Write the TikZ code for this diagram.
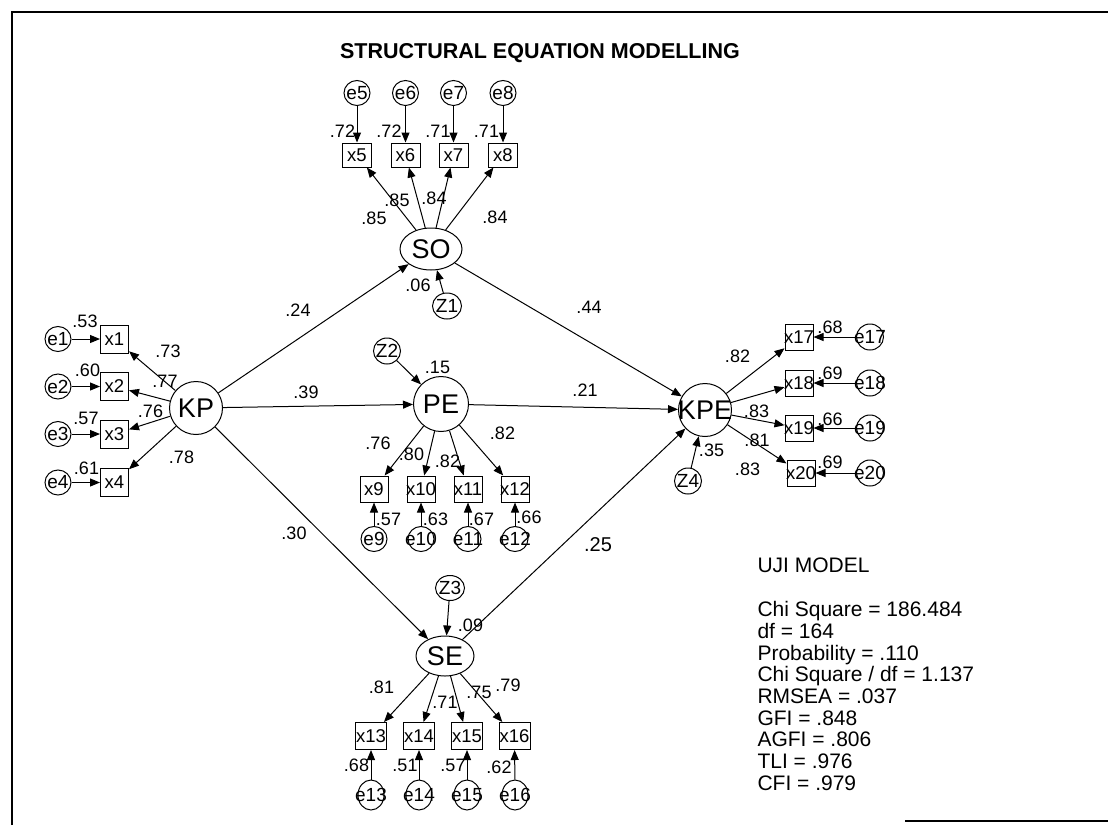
\documentclass[tikz,border=0pt]{standalone}
\usepackage{fontspec}
\setmainfont{Liberation Sans}
\usetikzlibrary{arrows.meta,shapes.geometric,positioning}
\newcommand{\zw}[1]{\makebox[0pt]{#1}}

\begin{document}
\begin{tikzpicture}[x=1pt,y=-1pt,line width=1pt,
  >={Triangle[length=10pt,width=8pt]},
  lat/.style={draw,ellipse,inner sep=0pt,font=\fontsize{27}{27}\selectfont},
  dist/.style={draw,ellipse,inner sep=0pt,minimum width=29pt,minimum height=26pt,font=\fontsize{19}{19}\selectfont},
  obs/.style={draw,rectangle,inner sep=0pt,minimum width=29pt,minimum height=26pt,font=\fontsize{18.5}{18.5}\selectfont},
  err/.style={draw,ellipse,inner sep=0pt,minimum width=26pt,minimum height=25pt,font=\fontsize{19}{19}\selectfont},
  lbl/.style={inner sep=0pt,font=\fontsize{18}{18}\selectfont},
  stat/.style={inner sep=0pt,align=left,font=\fontsize{21}{21.7}\selectfont}]
  \useasboundingbox (0,0) rectangle (1108,825);
  % frame
  \draw[line width=1.6pt] (12,825) -- (12,12) -- (1108,12);
  \draw[line width=1.6pt] (905,821) -- (1108,821);
  \node[inner sep=0pt,font=\fontsize{21.5}{21.5}\selectfont\bfseries] (title) at (540,53) {STRUCTURAL EQUATION MODELLING};

  % latent variables
  \node[lat,minimum width=62pt,minimum height=42pt] (SO) at (431,249) {\zw{SO}};
  \node[lat,minimum width=53pt,minimum height=53pt] (KP) at (196,408) {\zw{KP}};
  \node[lat,minimum width=55pt,minimum height=55pt] (PE) at (441,404) {\zw{PE}};
  \node[lat,minimum width=53pt,minimum height=53pt] (KPE) at (705,410) {\zw{KPE}};
  \node[lat,minimum width=58pt,minimum height=40pt] (SE) at (445,656) {\zw{SE}};

  \node[dist] (Z1) at (447,306) {\zw{Z1}};
  \node[dist,minimum width=27pt] (Z2) at (387,351) {\zw{Z2}};
  \node[dist,minimum height=25pt] (Z3) at (450,588) {\zw{Z3}};
  \node[dist,minimum width=27pt] (Z4) at (688,481) {\zw{Z4}};

  % SO indicators
  \node[obs,minimum height=24pt] (x5) at (357,155) {\zw{x5}};
  \node[obs,minimum height=24pt] (x6) at (405.5,155) {\zw{x6}};
  \node[obs,minimum height=24pt] (x7) at (453.5,155) {\zw{x7}};
  \node[obs,minimum height=24pt] (x8) at (503,155) {\zw{x8}};
  \node[err] (e5) at (357,93) {\zw{e5}};
  \node[err] (e6) at (405.5,93) {\zw{e6}};
  \node[err] (e7) at (453.5,93) {\zw{e7}};
  \node[err] (e8) at (503,93) {\zw{e8}};

  % KP indicators
  \node[obs,minimum width=28pt,minimum height=28pt] (x1) at (114.5,339) {\zw{x1}};
  \node[obs,minimum width=28pt,minimum height=28pt] (x2) at (114.5,386.5) {\zw{x2}};
  \node[obs,minimum width=28pt,minimum height=28pt] (x3) at (114.5,434) {\zw{x3}};
  \node[obs,minimum width=28pt,minimum height=28pt] (x4) at (114.5,482.5) {\zw{x4}};
  \node[err] (e1) at (58,339) {\zw{e1}};
  \node[err] (e2) at (58,386.5) {\zw{e2}};
  \node[err] (e3) at (58,434) {\zw{e3}};
  \node[err] (e4) at (58,482.5) {\zw{e4}};

  % PE indicators
  \node[obs,minimum width=28pt] (x9) at (374,489) {\zw{x9}};
  \node[obs,minimum width=28pt] (x10) at (421,489) {\zw{x10}};
  \node[obs,minimum width=28pt] (x11) at (468,489) {\zw{x11}};
  \node[obs,minimum width=28pt] (x12) at (515,489) {\zw{x12}};
  \node[err] (e9) at (374,539) {\zw{e9}};
  \node[err] (e10) at (421,539) {\zw{e10}};
  \node[err] (e11) at (468,539) {\zw{e11}};
  \node[err] (e12) at (515,539) {\zw{e12}};

  % KPE indicators
  \node[obs,minimum width=28pt] (x17) at (799,337) {\zw{x17}};
  \node[obs,minimum width=28pt] (x18) at (799,383) {\zw{x18}};
  \node[obs,minimum width=28pt] (x19) at (799,428) {\zw{x19}};
  \node[obs,minimum width=28pt] (x20) at (801,473) {\zw{x20}};
  \node[err,minimum width=27pt,minimum height=26pt] (e17) at (870,337) {\zw{e17}};
  \node[err,minimum width=27pt,minimum height=26pt] (e18) at (870,383) {\zw{e18}};
  \node[err,minimum width=27pt,minimum height=26pt] (e19) at (870,428) {\zw{e19}};
  \node[err,minimum width=27pt,minimum height=26pt] (e20) at (870,473) {\zw{e20}};

  % SE indicators
  \node[obs,minimum width=31pt,minimum height=27pt] (x13) at (371,736) {\zw{x13}};
  \node[obs,minimum width=31pt,minimum height=27pt] (x14) at (419,736) {\zw{x14}};
  \node[obs,minimum width=31pt,minimum height=27pt] (x15) at (467,736) {\zw{x15}};
  \node[obs,minimum width=31pt,minimum height=27pt] (x16) at (514.5,736) {\zw{x16}};
  \node[err,minimum height=30pt] (e13) at (371,795) {\zw{e13}};
  \node[err,minimum height=30pt] (e14) at (419,795) {\zw{e14}};
  \node[err,minimum height=30pt] (e15) at (467,795) {\zw{e15}};
  \node[err,minimum height=30pt] (e16) at (515,795) {\zw{e16}};

  % structural paths
  \draw[->] (KP) -- (SO);
  \draw[->] (KP) -- (PE);
  \draw[->] (KP) -- (SE);
  \draw[->] (SO) -- (KPE);
  \draw[->] (PE) -- (KPE);
  \draw[->] (SE) -- (KPE);
  \draw[->] (Z1) -- (SO);
  \draw[->] (Z2) -- (PE);
  \draw[->] (Z3) -- (SE);
  \draw[->] (Z4) -- (KPE);

  % measurement paths
  \draw[->] (SO) -- (x5);
  \draw[->] (SO) -- (x6);
  \draw[->] (SO) -- (x7);
  \draw[->] (SO) -- (x8);
  \draw[->] (e5) -- (x5);
  \draw[->] (e6) -- (x6);
  \draw[->] (e7) -- (x7);
  \draw[->] (e8) -- (x8);
  \draw[->] (KP) -- (x1);
  \draw[->] (KP) -- (x2);
  \draw[->] (KP) -- (x3);
  \draw[->] (KP) -- (x4);
  \draw[->] (e1) -- (x1);
  \draw[->] (e2) -- (x2);
  \draw[->] (e3) -- (x3);
  \draw[->] (e4) -- (x4);
  \draw[->] (PE) -- (x9);
  \draw[->] (PE) -- (x10);
  \draw[->] (PE) -- (x11);
  \draw[->] (PE) -- (x12);
  \draw[->] (e9) -- (x9);
  \draw[->] (e10) -- (x10);
  \draw[->] (e11) -- (x11);
  \draw[->] (e12) -- (x12);
  \draw[->] (KPE) -- (x17);
  \draw[->] (KPE) -- (x18);
  \draw[->] (KPE) -- (x19);
  \draw[->] (KPE) -- (x20);
  \draw[->] (e17) -- (x17);
  \draw[->] (e18) -- (x18);
  \draw[->] (e19) -- (x19);
  \draw[->] (e20) -- (x20);
  \draw[->] (SE) -- (x13);
  \draw[->] (SE) -- (x14);
  \draw[->] (SE) -- (x15);
  \draw[->] (SE) -- (x16);
  \draw[->] (e13) -- (x13);
  \draw[->] (e14) -- (x14);
  \draw[->] (e15) -- (x15);
  \draw[->] (e16) -- (x16);

  % estimates
  \node[lbl] (b1) at (298,310) {.24};
  \node[lbl] (b2) at (589,307) {.44};
  \node[lbl] (b3) at (306,392) {.39};
  \node[lbl] (b4) at (585,390) {.21};
  \node[lbl] (b5) at (294,533) {.30};
  \node[lbl,font=\fontsize{20}{20}\selectfont] (b6) at (598,545) {.25};
  \node[lbl] (r1) at (418,285) {.06};
  \node[lbl] (r2) at (437.5,367) {.15};
  \node[lbl] (r3) at (470.5,625) {.09};
  \node[lbl] (r4) at (711.5,450) {.35};

  \node[lbl] (l5) at (374,218) {.85};
  \node[lbl] (l6) at (397,200) {.85};
  \node[lbl] (l7) at (434,198) {.84};
  \node[lbl] (l8) at (495,217) {.84};
  \node[lbl] (s5) at (342.5,131) {.72};
  \node[lbl] (s6) at (389,131) {.72};
  \node[lbl] (s7) at (438,131) {.71};
  \node[lbl] (s8) at (486.5,131) {.71};

  \node[lbl] (l1) at (168,351) {.73};
  \node[lbl] (l2) at (165,381) {.77};
  \node[lbl] (l3) at (150.5,411.5) {.76};
  \node[lbl] (l4) at (181.5,457.5) {.78};
  \node[lbl] (s1) at (85,321.5) {.53};
  \node[lbl] (s2) at (87.5,370) {.60};
  \node[lbl] (s3) at (86,418) {.57};
  \node[lbl] (s4) at (86.5,468) {.61};

  \node[lbl] (l9) at (378,443) {.76};
  \node[lbl] (l10) at (411.5,454) {.80};
  \node[lbl] (l11) at (447.5,461.5) {.82};
  \node[lbl] (l12) at (502.5,433) {.82};
  \node[lbl] (s9) at (388.5,519) {.57};
  \node[lbl] (s10) at (435.5,519) {.63};
  \node[lbl] (s11) at (481.5,519) {.67};
  \node[lbl] (s12) at (529,517) {.66};

  \node[lbl] (l17) at (737.5,356) {.82};
  \node[lbl] (l18) at (756.5,411) {.83};
  \node[lbl] (l19) at (757,440) {.81};
  \node[lbl] (l20) at (747.5,469) {.83};
  \node[lbl] (s17) at (830,327) {.68};
  \node[lbl] (s18) at (830,373) {.69};
  \node[lbl] (s19) at (830,419) {.66};
  \node[lbl] (s20) at (830,462.5) {.69};

  \node[lbl] (l13) at (381.5,687) {.81};
  \node[lbl] (l14) at (445,702) {.71};
  \node[lbl] (l15) at (479,692) {.75};
  \node[lbl] (l16) at (508,685) {.79};
  \node[lbl] (s13) at (356.5,765) {.68};
  \node[lbl] (s14) at (405,765) {.51};
  \node[lbl] (s15) at (453,765) {.57};
  \node[lbl] (s16) at (499,767) {.62};

  % fit indices
  \node[stat,anchor=north west] (uji) at (757,557) {UJI MODEL};
  \node[stat,anchor=north west] (fit) at (757,601) {Chi Square = 186.484\\df = 164\\Probability = .110\\Chi Square / df = 1.137\\RMSEA = .037\\GFI = .848\\AGFI = .806\\TLI = .976\\CFI = .979};
\end{tikzpicture}
\end{document}
